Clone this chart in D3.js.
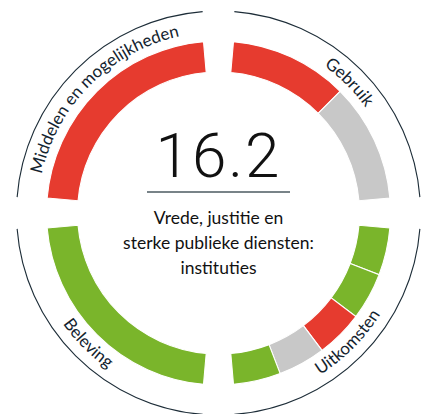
<!DOCTYPE html>
<html>
<head>
<meta charset="utf-8">
<script src="https://cdn.jsdelivr.net/npm/d3@7"></script>
<style>
  html, body { margin: 0; padding: 0; background: #fff; }
  svg { display: block; }
</style>
</head>
<body>
<svg id="chart" width="425" height="414"></svg>
<script>
// Quadrants, clockwise from the top
const quadrants = ["Gebruik", "Uitkomsten", "Beleving", "Middelen en mogelijkheden"];
// Indicator status per quadrant, clockwise within each quadrant
const gebruik = ["ongunstig", "onbekend"];
const uitkomsten = ["gunstig", "gunstig", "ongunstig", "onbekend", "gunstig"];
const beleving = ["gunstig"];
const middelen = ["ongunstig"];
const goalNumber = "16.2";
const goalTitle = ["Vrede, justitie en", "sterke publieke diensten:", "instituties"];

const statusColor = d3.scaleOrdinal()
  .domain(["gunstig", "ongunstig", "onbekend"])
  .range(["#7ab52b", "#e63b2f", "#c8c8c8"]);

const segmentsByQuadrant = [gebruik, uitkomsten, beleving, middelen];

const svg = d3.select("#chart");
const cx = 218.5, cy = 213;
const rLine = 202, rArcOuter = 172, rArcInner = 141;
const deg = Math.PI / 180;
const quarter = d3.scaleLinear().domain([0, 4]).range([0, 360]);

const g = svg.append("g").attr("transform", `translate(${cx},${cy})`);

// Thin outer ring, split in four
const lineGap = 4.5;
quadrants.forEach((q, i) => {
  const p = d3.path();
  const a0 = (quarter(i) + lineGap - 90) * deg;
  const a1 = (quarter(i + 1) - lineGap - 90) * deg;
  p.arc(0, 0, rLine, a0, a1, false);
  g.append("path")
    .attr("d", p.toString())
    .attr("fill", "none")
    .attr("stroke", "#1d2d38")
    .attr("stroke-width", 1.1);
});

// Thick coloured segments
const segGap = 5;
const segArc = d3.arc().innerRadius(rArcInner).outerRadius(rArcOuter);
segmentsByQuadrant.forEach((segs, i) => {
  const a = d3.scaleLinear()
    .domain([0, segs.length])
    .range([quarter(i) + segGap, quarter(i + 1) - segGap]);
  g.selectAll(null)
    .data(segs.map((s, j) => ({ status: s, start: a(j), end: a(j + 1) })))
    .join("path")
    .attr("d", d => segArc({ startAngle: d.start * deg, endAngle: d.end * deg }))
    .attr("fill", d => statusColor(d.status))
    .attr("stroke", "#fff")
    .attr("stroke-width", 1.1);
});

// Quadrant labels along the ring
const labelFont = "Lato, 'Noto Sans', sans-serif";
quadrants.forEach((q, i) => {
  const top = i === 0 || i === 3;
  const r = top ? 181 : 191;
  const a0 = (quarter(i) - 90) * deg;
  const a1 = (quarter(i + 1) - 90) * deg;
  const p = d3.path();
  if (top) p.arc(0, 0, r, a0, a1, false);
  else p.arc(0, 0, r, a1, a0, true);
  const id = "labelpath" + i;
  g.append("path").attr("id", id).attr("d", p.toString()).attr("fill", "none");
  g.append("text")
    .attr("font-family", labelFont)
    .attr("font-size", 17)
    .attr("fill", "#13232e")
    .append("textPath")
    .attr("href", "#" + id)
    .attr("startOffset", "50%")
    .attr("text-anchor", "middle")
    .text(q);
});

// Central goal number and title
g.append("text")
  .attr("x", 0)
  .attr("y", 177 - cy)
  .attr("text-anchor", "middle")
  .attr("font-family", "Roboto, sans-serif")
  .attr("font-weight", 300)
  .attr("font-size", 62)
  .attr("letter-spacing", 2)
  .attr("fill", "#111")
  .text(goalNumber);

g.append("line")
  .attr("x1", 147 - cx).attr("x2", 290 - cx)
  .attr("y1", 192 - cy).attr("y2", 192 - cy)
  .attr("stroke", "#4b5a60")
  .attr("stroke-width", 1.3);

const lineY = d3.scaleLinear().domain([0, 1]).range([223.5 - cy, 248.8 - cy]);
g.selectAll(null)
  .data(goalTitle)
  .join("text")
  .attr("x", 0)
  .attr("y", (d, i) => lineY(i))
  .attr("text-anchor", "middle")
  .attr("font-family", labelFont)
  .attr("font-size", 17.5)
  .attr("fill", "#111")
  .text(d => d);
</script>
</body>
</html>
